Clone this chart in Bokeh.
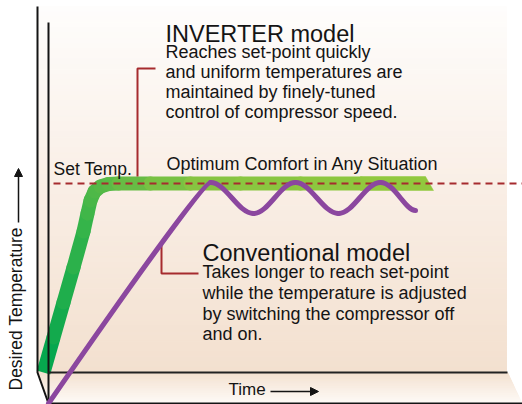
import math
import numpy as np
from bokeh.plotting import figure
from bokeh.models import Range1d, Arrow, NormalHead
from bokeh.core.properties import value
from bokeh.embed import file_html
from bokeh.resources import INLINE

# ---------------- data (time units, temperature units) ----------------
SET_TEMP = 220
# INVERTER model: thick band, fast rise then flat at set-point
INV_TIME = [-5, 5, 15, 25, 35, 39, 42, 46, 52, 60, 70, 102, 142, 192, 252, 312, 381]
INV_TEMP = [31, 66, 101, 136, 172, 190, 203, 212, 217, 219.5, 220, 220, 220, 220, 220, 220, 220]
# Conventional model: start, peaks / troughs of the oscillation, end
CONV_TIME = [0, 162, 205, 247, 290, 332, 367]
CONV_TEMP = [0, 221, 190, 221, 190, 221, 193]
CONV_START_SLOPE = 1.45

TITLE_INV = "INVERTER model"
TEXT_INV = ["Reaches set-point quickly", "and uniform temperatures are",
            "maintained by finely-tuned", "control of compressor speed."]
TITLE_CONV = "Conventional model"
TEXT_CONV = ["Takes longer to reach set-point", "while the temperature is adjusted",
             "by switching the compressor off", "and on."]
SET_LABEL = "Set Temp."
COMFORT_LABEL = "Optimum Comfort in Any Situation"
X_LABEL = "Time"
Y_LABEL = "Desired Temperature"

# ---------------- layout helpers (reference pixel -> data units) ----------------
def X(px):
    return px - 48

def Y(py):
    return 403 - py

BASE_FIX = 0.4  # renderer places alphabetic baseline this many ems low


def YB(py, size):
    return Y(py - BASE_FIX * size)


FONT = value("Liberation Sans")
RED = "#a62b2e"
PURPLE = "#8b479f"
INK = "#141414"


def hex2rgb(h):
    h = h.lstrip("#")
    return [int(h[i:i + 2], 16) for i in (0, 2, 4)]


def grad(stops, t):
    for (p0, c0), (p1, c1) in zip(stops[:-1], stops[1:]):
        if t <= p1 or (p1 == stops[-1][0]):
            f = 0 if p1 == p0 else min(max((t - p0) / (p1 - p0), 0), 1)
            a, b = hex2rgb(c0), hex2rgb(c1)
            return "#%02x%02x%02x" % tuple(int(round(a[i] + (b[i] - a[i]) * f)) for i in range(3))
    return stops[-1][1]


p = figure(width=522, height=404, x_range=Range1d(X(0), X(522)), y_range=Range1d(Y(404), Y(0)),
           output_backend="svg", toolbar_location=None, min_border=0,
           x_axis_location=None, y_axis_location=None)
p.xgrid.visible = False
p.ygrid.visible = False
p.outline_line_color = None
p.background_fill_color = "white"
p.border_fill_color = "white"

# ---------------- background: back wall + side wall gradient ----------------
WALL_STOPS = [(0, "#fefdfc"), (0.5, "#f9eee5"), (1, "#f3e0cf")]
N = 70
wy = np.linspace(6, 372, N + 1)
wcols = [grad(WALL_STOPS, (i + 0.5) / N) for i in range(N)]
p.quad(left=X(37), right=X(506), top=[Y(v) for v in wy[:-1]], bottom=[Y(v) for v in wy[1:]],
       fill_color=wcols, line_color=wcols, line_width=1)

# floor gradient (with perspective edges)
FLOOR_STOPS = [(0, "#f3e0cf"), (1, "#fefbf8")]
M = 18
fy = np.linspace(372, 404, M + 1)
fxs, fys, fcols = [], [], []
for i in range(M):
    a, b = fy[i], fy[i + 1]
    la, lb = 37 + (a - 372) * 11 / 31, 37 + (b - 372) * 11 / 31
    ra, rb = 507 + (a - 372) * 15 / 32, 507 + (b - 372) * 15 / 32
    fxs.append([X(la), X(ra), X(rb), X(lb)])
    fys.append([Y(a), Y(a), Y(b), Y(b)])
    fcols.append(grad(FLOOR_STOPS, (i + 0.5) / M))
p.patches(fxs, fys, fill_color=fcols, line_color=fcols, line_width=1)

# ---------------- INVERTER band (gradient green) ----------------
GREEN_STOPS = [(0, "#00a54f"), (0.3, "#36b44a"), (0.42, "#62bb46"), (0.56, "#86c441"), (1, "#93c93d")]
seg_len = [math.hypot(INV_TIME[i + 1] - INV_TIME[i], INV_TEMP[i + 1] - INV_TEMP[i])
           for i in range(len(INV_TIME) - 1)]
total = sum(seg_len)
cum = np.concatenate([[0], np.cumsum(seg_len)])
gcols = [grad(GREEN_STOPS, (cum[i] + seg_len[i] / 2) / total) for i in range(len(seg_len))]
BAND = 14
p.segment(x0=INV_TIME[:1], y0=INV_TEMP[:1], x1=INV_TIME[1:2], y1=INV_TEMP[1:2],
          line_color=gcols[0], line_width=BAND, line_cap="butt")
p.segment(x0=INV_TIME[1:-2], y0=INV_TEMP[1:-2], x1=INV_TIME[2:-1], y1=INV_TEMP[2:-1],
          line_color=gcols[1:-1], line_width=BAND, line_cap="round")
# last piece ends with a slanted cut
h = BAND / 2
t0, t1 = INV_TIME[-2], INV_TIME[-1]
p.patch([t0, t1 - 4, t1 + 4, t0], [SET_TEMP + h, SET_TEMP + h, SET_TEMP - h, SET_TEMP - h],
        fill_color=gcols[-1], line_color=gcols[-1], line_width=0.5)

# ---------------- box outline ----------------
p.line([X(37), X(37), X(48)], [Y(6), Y(372), Y(403)], line_color=INK, line_width=2)
p.line([X(48), X(48)], [Y(22), Y(403)], line_color=INK, line_width=2)
p.line([X(48), X(507)], [Y(372), Y(372)], line_color="#222222", line_width=2)
p.line([X(48), X(522)], [Y(403), Y(403)], line_color=INK, line_width=2)

# ---------------- set-point line ----------------
p.segment(x0=[X(53)], y0=[SET_TEMP], x1=[X(522)], y1=[SET_TEMP], line_color=RED,
          line_width=2, line_dash="7 5")

# callout brackets
p.line([X(155), X(137), X(137)], [Y(68), Y(68), Y(176)], line_color=RED, line_width=2)
p.line([X(161), X(161), X(198)], [Y(243), Y(273), Y(273)], line_color=RED, line_width=2)

# ---------------- Conventional curve (beziers through key points) ----------------
bx0, by0, bx1, by1, cx0, cy0, cx1, cy1 = [], [], [], [], [], [], [], []
# rise
P0 = (CONV_TIME[0], CONV_TEMP[0])
P3 = (CONV_TIME[1], CONV_TEMP[1])
It = P0[0] + (P3[1] - P0[1]) / CONV_START_SLOPE
bx0.append(P0[0]); by0.append(P0[1]); bx1.append(P3[0]); by1.append(P3[1])
cx0.append(P0[0] + 0.6 * (It - P0[0])); cy0.append(P0[1] + 0.6 * (P3[1] - P0[1]))
cx1.append(P3[0] + 0.6 * (It - P3[0])); cy1.append(P3[1])
# oscillation
for i in range(1, len(CONV_TIME) - 1):
    xa, ya, xb, yb = CONV_TIME[i], CONV_TEMP[i], CONV_TIME[i + 1], CONV_TEMP[i + 1]
    dx = xb - xa
    last = i == len(CONV_TIME) - 2
    bx0.append(xa); by0.append(ya); bx1.append(xb); by1.append(yb)
    cx0.append(xa + (0.4 if last else 0.36) * dx); cy0.append(ya)
    cx1.append(xb - (0.3 if last else 0.36) * dx); cy1.append(yb)
p.bezier(x0=bx0, y0=by0, x1=bx1, y1=by1, cx0=cx0, cy0=cy0, cx1=cx1, cy1=cy1,
         line_color=PURPLE, line_width=5, line_cap="round")

# ---------------- texts ----------------
def label(xs, ys, texts, size, angle=0.0):
    p.text(x=xs, y=[YB(v, size) for v in ys] if angle == 0 else ys, text=texts, text_font=FONT,
           text_font_size=f"{size}px", text_color=INK, text_baseline="alphabetic",
           text_align="left", angle=angle)


label([X(165)], [43], [TITLE_INV], 23.5)
label([X(165)] * 4, [59 + 20 * i for i in range(4)], TEXT_INV, 18)
label([X(202)], [262], [TITLE_CONV], 23.5)
label([X(202)] * 4, [279 + 20.6 * i for i in range(4)], TEXT_CONV, 18)
label([X(53)], [175], [SET_LABEL], 17.5)
label([X(166)], [171], [COMFORT_LABEL], 18)
label([X(228)], [396], [X_LABEL], 17)
# rotated axis label: baseline sits to the right of the glyphs
label([X(22 - BASE_FIX * 17.5)], [Y(390)], [Y_LABEL], 17.5, angle=math.pi / 2)

# axis arrows
p.add_layout(Arrow(x_start=X(270), y_start=Y(391), x_end=X(318), y_end=Y(391), line_width=1.5,
                   line_color=INK, end=NormalHead(size=8, fill_color=INK, line_color=INK)))
p.add_layout(Arrow(x_start=X(18), y_start=Y(222), x_end=X(18), y_end=Y(168), line_width=1.5,
                   line_color=INK, end=NormalHead(size=8, fill_color=INK, line_color=INK)))

open("out.html", "w").write(file_html(p, INLINE))
